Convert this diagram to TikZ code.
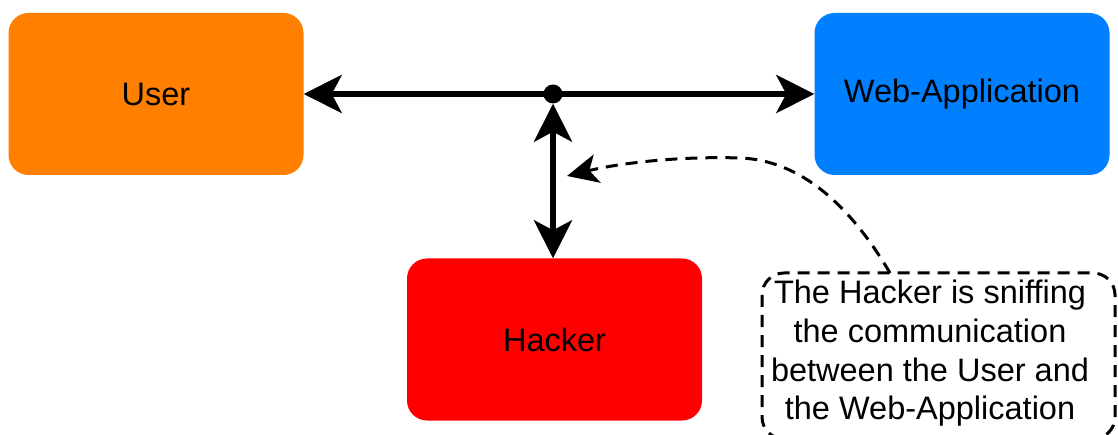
\documentclass[tikz,border=0pt]{standalone}
\usepackage{fontspec}
\setmainfont{Liberation Sans}
\usetikzlibrary{arrows.meta}
\definecolor{userorange}{HTML}{FF8000}
\definecolor{webblue}{HTML}{007FFF}
\definecolor{hackred}{HTML}{FF0000}
\begin{document}
\begin{tikzpicture}[x=1pt,y=-1pt,
  box/.style={rounded corners=20pt, minimum width=295pt, minimum height=162pt,
    inner sep=0pt, font=\fontsize{32.5}{38}\selectfont, text=black},
  conn/.style={line width=6pt, {Stealth[length=38pt,width=38pt,inset=10pt]}-{Stealth[length=38pt,width=38pt,inset=10pt]}},
  note/.style={dashed, line width=3pt, dash pattern=on 12pt off 8pt},
  notearrow/.style={note, -{Stealth[length=31pt,width=29pt,inset=8pt]}}
]
\useasboundingbox (0,0) rectangle (1118,435);
\node[box, fill=userorange] (user) at (156,94) {User};
\node[box, fill=webblue] (web) at (962,94) {Web-Application};
\node[box, fill=hackred] (hacker) at (554.5,339.5) {Hacker};
\node[circle, fill=black, inner sep=0pt, minimum size=19pt] (dot) at (553,94) {};
\draw[conn] (user.east) -- (web.west);
\draw[conn] (dot.south) -- (dot.south |- hacker.north);
\begin{scope}
\clip (0,0) rectangle (1118,435);
\draw[note, rounded corners=22pt] (762,273) rectangle (1115,439);
\end{scope}
\node[align=center, font=\fontsize{32.5}{38.7}\selectfont, inner sep=0pt, anchor=north] (txt) at (930,280)
  {The Hacker is sniffing\\the communication\\between the User and\\the Web-Application};
\coordinate (cstart) at (890,273);
\coordinate (cmid) at (740,158);
\coordinate (cend) at (567,176);
\draw[notearrow] (cstart) .. controls (850,205) and (800,160) .. (cmid)
  .. controls (680,156) and (620,163) .. (cend);
\end{tikzpicture}
\end{document}
